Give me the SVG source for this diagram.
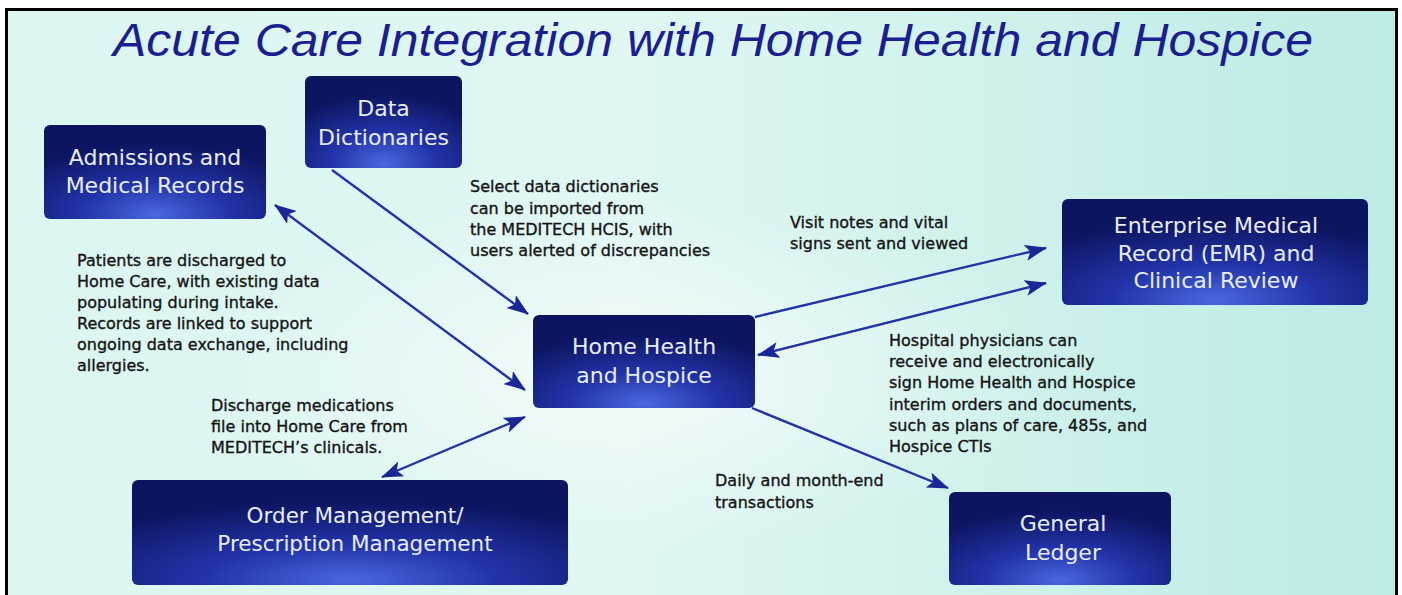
<svg xmlns="http://www.w3.org/2000/svg" width="1402" height="595" viewBox="0 0 1402 595">
  <defs>
    <linearGradient id="bg" x1="0" y1="0" x2="1" y2="0">
      <stop offset="0" stop-color="#dcf6f1"/>
      <stop offset="0.45" stop-color="#e0f7f3"/>
      <stop offset="1" stop-color="#bdebe5"/>
    </linearGradient>
    <radialGradient id="glow" cx="0.45" cy="0.62" r="0.3">
      <stop offset="0" stop-color="#ffffff" stop-opacity="0.6"/>
      <stop offset="1" stop-color="#ffffff" stop-opacity="0"/>
    </radialGradient>
    <radialGradient id="nodeFill" cx="0.5" cy="0.95" r="0.75">
      <stop offset="0" stop-color="#4a67dc"/>
      <stop offset="0.45" stop-color="#2233a8"/>
      <stop offset="1" stop-color="#0d1560"/>
    </radialGradient>
    <marker id="ah" viewBox="0 0 22 16" markerWidth="22" markerHeight="16" refX="21" refY="8" orient="auto-start-reverse" markerUnits="userSpaceOnUse">
      <path d="M0,0 L22,8 L0,16 L5,8 z" fill="#1a2596"/>
    </marker>
    <style>
      .node rect { fill: url(#nodeFill); }
      .node text { font-family: "DejaVu Sans", "Liberation Sans", sans-serif; font-size: 22px; fill: #e8eef9; text-anchor: middle; }
      .note { font-family: "DejaVu Sans", "Liberation Sans", sans-serif; font-size: 16px; fill: #141414; stroke: #141414; stroke-width: 0.35px; }
      .conn path { fill: none; stroke: #2233a6; stroke-width: 2.4; }
    </style>
  </defs>

  <rect x="0" y="0" width="1402" height="595" fill="#ffffff"/>
  <rect x="7" y="10" width="1389" height="590" fill="url(#bg)"/>
  <rect x="7" y="10" width="1389" height="590" fill="url(#glow)"/>
  <path d="M6.5,600 L6.5,9.5 L1396.5,9.5 L1396.5,600" fill="none" stroke="#000000" stroke-width="3"/>

  <text x="113" y="56" font-family="Liberation Sans, Arial, sans-serif" font-style="italic" font-size="46" fill="#1a1e90" textLength="1200" lengthAdjust="spacingAndGlyphs">Acute Care Integration with Home Health and Hospice</text>

  <g class="conn">
    <path d="M332,170 L528,314" marker-end="url(#ah)"/>
    <path d="M275,205 L525,390" marker-start="url(#ah)" marker-end="url(#ah)"/>
    <path d="M382,477 L525,417" marker-start="url(#ah)" marker-end="url(#ah)"/>
    <path d="M755,317 L1046,248" marker-end="url(#ah)"/>
    <path d="M758,355 L1046,283" marker-start="url(#ah)" marker-end="url(#ah)"/>
    <path d="M752,408 L948,488" marker-end="url(#ah)"/>
  </g>

  <g id="data-dictionaries" class="node">
    <rect x="305" y="76" width="157" height="92" rx="6"/>
    <text x="383.5" y="116">Data</text>
    <text x="383.5" y="145">Dictionaries</text>
  </g>
  <g id="admissions" class="node">
    <rect x="44" y="125" width="222" height="94" rx="6"/>
    <text x="155" y="165">Admissions and</text>
    <text x="155" y="193">Medical Records</text>
  </g>
  <g id="home-health" class="node">
    <rect x="533" y="315" width="222" height="93" rx="6"/>
    <text x="644" y="354">Home Health</text>
    <text x="644" y="383">and Hospice</text>
  </g>
  <g id="emr" class="node">
    <rect x="1062" y="199" width="306" height="106" rx="6"/>
    <text x="1216" y="233">Enterprise Medical</text>
    <text x="1216" y="261">Record (EMR) and</text>
    <text x="1216" y="288">Clinical Review</text>
  </g>
  <g id="general-ledger" class="node">
    <rect x="949" y="492" width="222" height="93" rx="6"/>
    <text x="1063" y="531">General</text>
    <text x="1063" y="560">Ledger</text>
  </g>
  <g id="order-management" class="node">
    <rect x="132" y="480" width="436" height="105" rx="6"/>
    <text x="355" y="523" style="font-size:21.5px">Order Management/</text>
    <text x="355" y="551" style="font-size:21.5px">Prescription Management</text>
  </g>

  <g id="notes">
    <text class="note" x="470" y="192">Select data dictionaries</text>
    <text class="note" x="470" y="214">can be imported from</text>
    <text class="note" x="470" y="235">the MEDITECH HCIS, with</text>
    <text class="note" x="470" y="256">users alerted of discrepancies</text>

    <text class="note" x="790" y="228">Visit notes and vital</text>
    <text class="note" x="790" y="249">signs sent and viewed</text>

    <text class="note" x="889" y="346">Hospital physicians can</text>
    <text class="note" x="889" y="367">receive and electronically</text>
    <text class="note" x="889" y="388">sign Home Health and Hospice</text>
    <text class="note" x="889" y="410">interim orders and documents,</text>
    <text class="note" x="889" y="431">such as plans of care, 485s, and</text>
    <text class="note" x="889" y="452">Hospice CTIs</text>

    <text class="note" x="77" y="266">Patients are discharged to</text>
    <text class="note" x="77" y="287">Home Care, with existing data</text>
    <text class="note" x="77" y="308">populating during intake.</text>
    <text class="note" x="77" y="329">Records are linked to support</text>
    <text class="note" x="77" y="350">ongoing data exchange, including</text>
    <text class="note" x="77" y="371">allergies.</text>

    <text class="note" x="211" y="411">Discharge medications</text>
    <text class="note" x="211" y="432">file into Home Care from</text>
    <text class="note" x="211" y="453">MEDITECH’s clinicals.</text>

    <text class="note" x="715" y="486">Daily and month-end</text>
    <text class="note" x="715" y="508">transactions</text>
  </g>
</svg>
